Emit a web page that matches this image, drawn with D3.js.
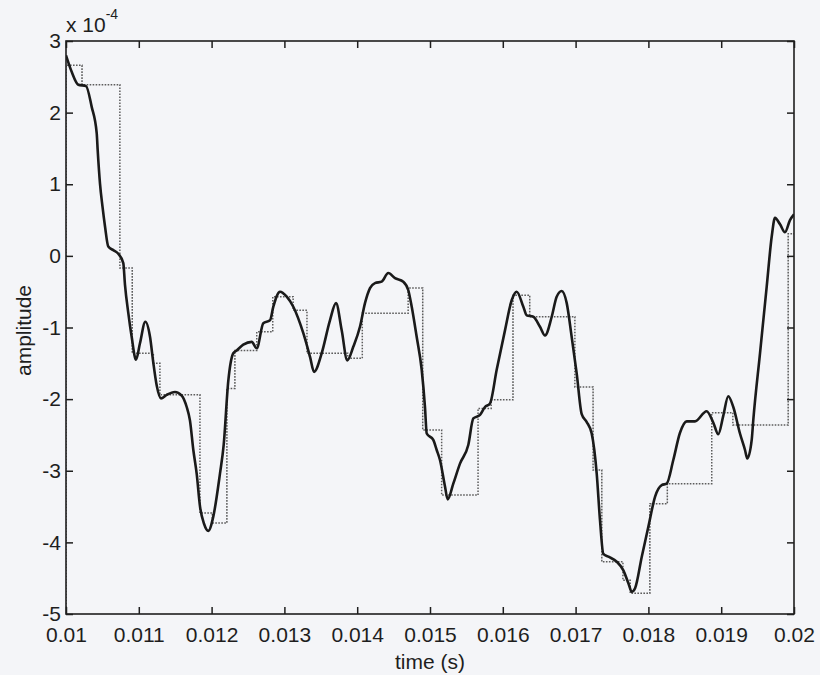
<!DOCTYPE html>
<html>
<head>
<meta charset="utf-8">
<script src="https://cdn.jsdelivr.net/npm/d3@7/dist/d3.min.js"></script>
<style>
  html, body { margin: 0; padding: 0; background: #f4f5f8; }
  svg { display: block; }
  text { font-family: "Liberation Sans", Arial, Helvetica, sans-serif; fill: #1e1e1e; }
</style>
</head>
<body>
<svg id="chart" width="820" height="675"></svg>
<script>
// Amplitudes are stored in units of 1e-4 (the axis multiplier shown top-left).
const EXPONENT = -4;

// Continuous signal: time (s) and amplitude (x 1e-4)
const signalTime = [
  0.010000, 0.010078, 0.010169, 0.010275, 0.010353, 0.010422, 0.010435, 0.010467, 0.010501, 0.010536,
  0.010581, 0.010650, 0.010718, 0.010787, 0.010810, 0.010856, 0.010902, 0.010962, 0.011016, 0.011090,
  0.011154, 0.011199, 0.011246, 0.011305, 0.011383, 0.011497, 0.011589, 0.011658, 0.011703, 0.011749,
  0.011795, 0.011841, 0.011896, 0.011955, 0.012023, 0.012115, 0.012166, 0.012229, 0.012298, 0.012345,
  0.012435, 0.012551, 0.012620, 0.012710, 0.012802, 0.012848, 0.012940, 0.013032, 0.013122, 0.013260,
  0.013352, 0.013407, 0.013512, 0.013626, 0.013709, 0.013787, 0.013864, 0.013946, 0.014038, 0.014107,
  0.014176, 0.014244, 0.014336, 0.014427, 0.014519, 0.014633, 0.014702, 0.014749, 0.014817, 0.014886,
  0.014931, 0.014955, 0.015045, 0.015092, 0.015137, 0.015206, 0.015243, 0.015320, 0.015412, 0.015526,
  0.015595, 0.015687, 0.015755, 0.015824, 0.015916, 0.016030, 0.016122, 0.016191, 0.016282, 0.016328,
  0.016419, 0.016511, 0.016580, 0.016672, 0.016740, 0.016809, 0.016878, 0.016946, 0.017015, 0.017084,
  0.017153, 0.017221, 0.017290, 0.017335, 0.017381, 0.017450, 0.017565, 0.017656, 0.017725, 0.017771,
  0.017817, 0.017909, 0.018000, 0.018092, 0.018183, 0.018251, 0.018342, 0.018434, 0.018526, 0.018640,
  0.018800, 0.018892, 0.018960, 0.019029, 0.019097, 0.019166, 0.019258, 0.019327, 0.019358, 0.019419,
  0.019441, 0.019533, 0.019625, 0.019694, 0.019739, 0.019808, 0.019876, 0.019945, 0.020000
];
const signalAmp = [
  2.80, 2.57, 2.39, 2.37, 2.08, 1.71, 1.48, 1.01, 0.69, 0.41,
  0.13, 0.08, 0.03, -0.10, -0.40, -0.80, -1.13, -1.45, -1.22, -0.92,
  -1.13, -1.49, -1.81, -1.99, -1.94, -1.90, -1.95, -2.11, -2.30, -2.71,
  -3.04, -3.50, -3.74, -3.84, -3.64, -3.04, -2.64, -1.75, -1.36, -1.32,
  -1.24, -1.20, -1.29, -0.94, -0.90, -0.71, -0.50, -0.57, -0.71, -1.08,
  -1.41, -1.62, -1.36, -0.90, -0.66, -1.04, -1.46, -1.27, -0.99, -0.66,
  -0.45, -0.38, -0.36, -0.24, -0.31, -0.36, -0.48, -0.71, -1.13, -1.59,
  -2.11, -2.48, -2.57, -2.71, -2.85, -3.22, -3.40, -3.18, -2.90, -2.64,
  -2.27, -2.22, -2.11, -2.06, -1.59, -1.04, -0.62, -0.50, -0.71, -0.83,
  -0.85, -0.99, -1.11, -0.85, -0.57, -0.49, -0.66, -1.13, -1.64, -2.21,
  -2.32, -2.48, -3.04, -3.69, -4.16, -4.20, -4.27, -4.39, -4.57, -4.69,
  -4.64, -4.20, -3.78, -3.36, -3.20, -3.18, -2.85, -2.47, -2.31, -2.31,
  -2.17, -2.33, -2.49, -2.23, -1.96, -2.11, -2.48, -2.71, -2.83, -2.57,
  -2.29, -1.36, -0.43, 0.27, 0.53, 0.44, 0.33, 0.50, 0.58
];

// Sample-and-hold output: hold start times (s) and held amplitude (x 1e-4).
// The first entry is the value held from before the window opens.
const holdTime = [
  0.00980, 0.01000, 0.01022, 0.01074, 0.01091, 0.01120, 0.01129, 0.01184, 0.01201, 0.01221,
  0.01232, 0.01262, 0.01284, 0.01312, 0.01331, 0.01387, 0.01407, 0.01470, 0.01490, 0.01516,
  0.01566, 0.01584, 0.01614, 0.01637, 0.01699, 0.01724, 0.01736, 0.01765, 0.01775, 0.01802,
  0.01826, 0.01887, 0.01916, 0.01992
];
const holdAmp = [
  -5.50, 2.66, 2.39, -0.17, -1.36, -1.50, -1.94, -3.59, -3.73, -1.85,
  -1.32, -1.06, -0.57, -0.76, -1.36, -1.43, -0.80, -0.45, -2.43, -3.34,
  -2.13, -2.01, -0.55, -0.85, -1.83, -2.99, -4.27, -4.53, -4.71, -3.46,
  -3.18, -2.19, -2.36, 0.31
];

// Axis ticks
const xTicks = [0.010, 0.011, 0.012, 0.013, 0.014, 0.015, 0.016, 0.017, 0.018, 0.019, 0.020];
const xTickLabels = ["0.01", "0.011", "0.012", "0.013", "0.014", "0.015", "0.016", "0.017", "0.018", "0.019", "0.02"];
const yTicks = [-5, -4, -3, -2, -1, 0, 1, 2, 3];
const yTickLabels = ["-5", "-4", "-3", "-2", "-1", "0", "1", "2", "3"];

const plot = { left: 66, top: 41, right: 794, bottom: 614 };

const svg = d3.select("#chart");
const x = d3.scaleLinear().domain([0.01, 0.02]).range([plot.left, plot.right]);
const y = d3.scaleLinear().domain([-5, 3]).range([plot.bottom, plot.top]);

svg.append("clipPath").attr("id", "plotclip")
  .append("rect")
  .attr("x", plot.left).attr("y", plot.top)
  .attr("width", plot.right - plot.left).attr("height", plot.bottom - plot.top);

const signal = signalTime.map((t, i) => [t, signalAmp[i]]);
const hold = holdTime.map((t, i) => [t, holdAmp[i]]);
hold.push([0.02, holdAmp[holdAmp.length - 1]]);

const g = svg.append("g").attr("clip-path", "url(#plotclip)");

// held samples (dotted staircase)
g.append("path")
  .datum(hold)
  .attr("fill", "none")
  .attr("stroke", "#5c5c5c")
  .attr("stroke-width", 1.5)
  .attr("stroke-dasharray", "1.6,1.4")
  .attr("d", d3.line().x(d => x(d[0])).y(d => y(d[1])).curve(d3.curveStepAfter));

// continuous signal
g.append("path")
  .datum(signal)
  .attr("fill", "none")
  .attr("stroke", "#1a1a1a")
  .attr("stroke-width", 2.6)
  .attr("stroke-linejoin", "round")
  .attr("d", d3.line().x(d => x(d[0])).y(d => y(d[1])).curve(d3.curveMonotoneX));

// Axes: ticks point inward on all four sides
const fontSize = 21;
const xFmt = (d, i) => xTickLabels[i];
const yFmt = (d, i) => yTickLabels[i];

function styleAxis(sel) {
  sel.select(".domain").remove();
  sel.selectAll(".tick line").attr("stroke", "#1e1e1e").attr("stroke-width", 1.5);
  sel.selectAll(".tick text").attr("font-size", fontSize).attr("fill", "#1e1e1e");
}

svg.append("g")
  .attr("transform", `translate(0,${plot.bottom})`)
  .call(d3.axisBottom(x).tickValues(xTicks).tickFormat(xFmt).tickSizeInner(-7).tickSizeOuter(0).tickPadding(13))
  .call(styleAxis);

svg.append("g")
  .attr("transform", `translate(0,${plot.top})`)
  .call(d3.axisTop(x).tickValues(xTicks).tickFormat("").tickSizeInner(-7).tickSizeOuter(0))
  .call(styleAxis);

svg.append("g")
  .attr("transform", `translate(${plot.left},0)`)
  .call(d3.axisLeft(y).tickValues(yTicks).tickFormat(yFmt).tickSizeInner(-7).tickSizeOuter(0).tickPadding(5))
  .call(styleAxis);

svg.append("g")
  .attr("transform", `translate(${plot.right},0)`)
  .call(d3.axisRight(y).tickValues(yTicks).tickFormat("").tickSizeInner(-7).tickSizeOuter(0))
  .call(styleAxis);

// frame
svg.append("rect")
  .attr("x", plot.left).attr("y", plot.top)
  .attr("width", plot.right - plot.left).attr("height", plot.bottom - plot.top)
  .attr("fill", "none").attr("stroke", "#1e1e1e").attr("stroke-width", 1.6);

// exponent marker
const expText = svg.append("text")
  .attr("x", plot.left).attr("y", 32)
  .attr("font-size", fontSize);
expText.append("tspan").text("x 10");
expText.append("tspan").attr("dy", -13).attr("font-size", 14).text(String(EXPONENT));

// axis titles
svg.append("text")
  .attr("x", (plot.left + plot.right) / 2).attr("y", 669)
  .attr("text-anchor", "middle").attr("font-size", fontSize)
  .text("time (s)");

svg.append("text")
  .attr("transform", `translate(31,${(plot.top + plot.bottom) / 2 + 3}) rotate(-90)`)
  .attr("text-anchor", "middle").attr("font-size", fontSize)
  .text("amplitude");
</script>
</body>
</html>
